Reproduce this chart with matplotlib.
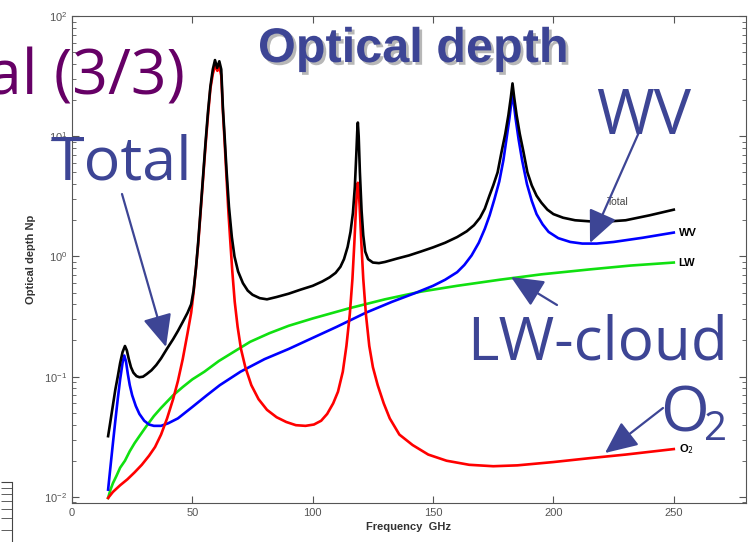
import matplotlib
matplotlib.use("Agg")
import matplotlib.pyplot as plt
import matplotlib.patheffects as pe

# frequency (GHz) / optical depth (Np)
f_total = [15, 16, 17, 18, 19, 20, 21, 22, 22.8, 23.6, 24.5, 25.5, 26.8, 28, 29.5, 31, 33,
           35, 37, 39.4, 42, 44, 46, 48, 49.5, 50.5, 51.5, 52.4, 53.4, 54.4, 55.5, 56.5,
           57.5, 58.5, 59.4, 60.3, 61.2, 62, 62.7, 63.4, 64.2, 65.2, 66.4, 67.5, 69, 71,
           73, 75, 78, 81, 85, 90, 95, 100, 104, 107, 109.5, 111.5, 113, 114.5, 115.7,
           116.7, 117.5, 118.1, 118.5, 118.75, 119.1, 119.6, 120.3, 121, 121.8, 123, 125,
           127.5, 130, 135, 140, 145, 150, 155, 160, 164, 167, 169.5, 171.5, 173.4, 175,
           176.8, 178.5, 180, 181.3, 182.3, 183, 183.7, 184.7, 186, 187.5, 189.2, 191, 193,
           195, 197.5, 200, 204, 209, 215, 222, 230, 240, 250]
v_total = [0.032, 0.043, 0.058, 0.078, 0.1, 0.13, 0.16, 0.18, 0.165, 0.14, 0.12, 0.108,
           0.101, 0.099, 0.1, 0.105, 0.113, 0.125, 0.142, 0.17, 0.205, 0.24, 0.285, 0.34,
           0.4, 0.52, 0.8, 1.3, 2.4, 4.5, 9, 16, 26, 36, 43, 37, 42, 36, 17, 10, 5.2, 2.6,
           1.45, 1.0, 0.75, 0.6, 0.52, 0.48, 0.45, 0.44, 0.46, 0.49, 0.53, 0.57, 0.62, 0.67,
           0.73, 0.82, 0.95, 1.2, 1.6, 2.3, 3.8, 7, 11, 13, 10, 5, 2.4, 1.5, 1.1, 0.95, 0.89,
           0.88, 0.9, 0.96, 1.02, 1.1, 1.19, 1.3, 1.45, 1.62, 1.82, 2.1, 2.5, 3.2, 3.9, 5.0,
           7.5, 10.5, 15, 21, 27.5, 21, 15, 10.5, 7.5, 5.0, 3.9, 3.2, 2.8, 2.45, 2.25, 2.1,
           2.0, 1.96, 1.95, 2.0, 2.2, 2.45]

f_wv = [15, 16, 17, 18, 19, 20, 21, 21.7, 22.4, 23.2, 24, 25, 26.5, 28, 30, 32, 34, 37, 40,
        44, 50, 56, 61.4, 70, 80, 90, 98.8, 110, 122, 133, 143, 150, 155, 160, 163, 166,
        169, 171.5, 173.5, 175.5, 177.5, 179.2, 180.5, 181.7, 182.5, 183, 183.5, 184.3,
        185.5, 187, 189, 191, 193, 195.5, 198, 202, 207, 212, 218, 225, 237, 250]
v_wv = [0.0115, 0.018, 0.028, 0.043, 0.065, 0.095, 0.13, 0.15, 0.135, 0.105, 0.085, 0.07,
        0.057, 0.049, 0.043, 0.04, 0.039, 0.039, 0.041, 0.045, 0.056, 0.07, 0.085, 0.11,
        0.14, 0.17, 0.205, 0.26, 0.34, 0.42, 0.5, 0.57, 0.64, 0.74, 0.85, 1.02, 1.3, 1.7,
        2.2, 3.0, 4.2, 6.3, 9.5, 14, 19, 24, 19, 14, 9.5, 6.3, 4.0, 2.9, 2.25, 1.85, 1.6,
        1.42, 1.32, 1.28, 1.28, 1.32, 1.43, 1.58]

f_lw = [15, 16, 17, 18.5, 20, 22, 24, 26, 28, 31, 34, 37, 42, 46, 50, 55, 61, 67, 74, 82,
        90, 100, 115, 130, 145, 160, 177.6, 195, 215, 232, 250]
v_lw = [0.0098, 0.0115, 0.013, 0.015, 0.0175, 0.02, 0.024, 0.028, 0.032, 0.039, 0.047,
        0.055, 0.07, 0.082, 0.095, 0.11, 0.135, 0.16, 0.195, 0.23, 0.265, 0.305, 0.37, 0.44,
        0.51, 0.57, 0.64, 0.71, 0.78, 0.84, 0.89]

f_o2 = [15, 17, 20, 23, 26, 29, 32, 34.5, 37, 39.5, 42, 44, 46, 48, 49.5, 50.5, 51.5, 52.4,
        53.4, 54.4, 55.5, 56.5, 57.5, 58.5, 59.5, 60.4, 61.2, 62, 62.7, 63.4, 64.2, 65,
        65.8, 66.6, 67.6, 68.8, 70.2, 72, 74.5, 77.5, 81, 85, 89, 93, 97, 100.5, 103.5,
        106, 108.5, 110.5, 112.5, 114, 115.4, 116.5, 117.3, 118, 118.4, 118.75, 119.1,
        119.5, 120.2, 121, 122.1, 123.5, 125, 127, 129.5, 132, 136, 141.5, 148, 155.6, 165,
        175, 185, 200, 215, 230, 250]
v_o2 = [0.0098, 0.011, 0.0125, 0.014, 0.016, 0.0185, 0.022, 0.026, 0.033, 0.045, 0.065,
        0.092, 0.14, 0.23, 0.34, 0.5, 0.8, 1.25, 2.3, 4.3, 8.5, 15, 25, 33, 39, 35, 38, 32,
        16, 9, 4.5, 2.3, 1.3, 0.75, 0.42, 0.26, 0.17, 0.12, 0.085, 0.065, 0.053, 0.046,
        0.042, 0.0395, 0.039, 0.04, 0.043, 0.049, 0.06, 0.075, 0.11, 0.18, 0.33, 0.65, 1.3,
        2.6, 3.6, 4.1, 3.6, 2.6, 1.3, 0.65, 0.33, 0.18, 0.12, 0.085, 0.06, 0.045, 0.033,
        0.027, 0.0225, 0.02, 0.0185, 0.018, 0.0183, 0.0195, 0.021, 0.0225, 0.025]

x_ticks = [0, 50, 100, 150, 200, 250]
slide_blue = "#3d4595"
W, H = 754, 542


def px(x, y):
    # pixel position from the top-left corner -> figure pixels
    return (x, H - y)


fig = plt.figure(figsize=(W / 100, H / 100), dpi=100)
ax = fig.add_axes([72 / W, 1 - 503 / H, (746 - 72) / W, (503 - 16) / H])

ax.plot(f_lw, v_lw, color="#10e010", lw=1.9)
ax.plot(f_wv, v_wv, color="#0000ff", lw=1.9)
ax.plot(f_o2, v_o2, color="#ff0000", lw=1.9)
ax.plot(f_total, v_total, color="black", lw=1.9)

ax.set_yscale("log")
ax.set_xlim(0, 280)
ax.set_ylim(0.0089, 100)
ax.set_xticks(x_ticks)
for s in ax.spines.values():
    s.set_color("#555555")
ax.tick_params(which="both", direction="in", top=True, right=True, colors="#555555",
               labelsize=8, labelcolor="#555555")
ax.tick_params(which="major", length=5)
ax.tick_params(which="minor", length=3)
for lab in ax.get_xticklabels() + ax.get_yticklabels():
    lab.set_family("Liberation Sans")
ax.set_xlabel("Frequency  GHz", fontsize=8, fontweight="bold", color="#333333",
              family="Liberation Sans", labelpad=3)
ax.set_ylabel("Optical depth Np", fontsize=8, fontweight="bold", color="#333333",
              family="Liberation Sans", labelpad=6)

# curve names at the right-hand ends
ax.text(222, 2.85, "Total", fontsize=7.5, color="#444444", va="center", family="Liberation Sans")
ax.text(252, 1.58, "WV", fontsize=8, fontweight="bold", va="center", family="Liberation Sans")
ax.text(252, 0.875, "LW", fontsize=8, fontweight="bold", va="center", family="Liberation Sans")
ax.text(252, 0.025, r"O$_2$", fontsize=8, fontweight="bold", va="center", family="Liberation Sans")

# fragment of a neighbouring axis at the bottom left
ax2 = fig.add_axes([0, 0, 12 / W, 60 / H])
ax2.set_yscale("log")
ax2.set_ylim(0.32, 1.0)
ax2.set_xticks([])
for side in ("left", "top", "bottom"):
    ax2.spines[side].set_visible(False)
ax2.spines["right"].set_color("#444444")
ax2.yaxis.tick_right()
ax2.tick_params(which="both", direction="in", length=8, labelright=False, colors="#444444")
ax2.patch.set_alpha(0)

# slide overlay text
fig.text(185 / W, 1 - 95 / H, "al (3/3)", fontsize=45, color="#660066", family="Open Sans",
         ha="right", va="baseline")
fig.text(258 / W, 1 - 62 / H, "Optical depth", fontsize=35, fontweight="bold", color=slide_blue,
         family="Liberation Sans", ha="left", va="baseline",
         path_effects=[pe.withSimplePatchShadow(offset=(2, -2), shadow_rgbFace="#888888", alpha=0.6)])
fig.text(50 / W, 1 - 180 / H, "Total", fontsize=44, color=slide_blue, family="Open Sans",
         ha="left", va="baseline")
fig.text(596 / W, 1 - 134 / H, "WV", fontsize=45, color=slide_blue, family="Open Sans",
         ha="left", va="baseline")
fig.text(467 / W, 1 - 360 / H, "LW-cloud", fontsize=43.5, color=slide_blue, family="Open Sans",
         ha="left", va="baseline")
fig.text(660 / W, 1 - 431 / H, "O", fontsize=45, color=slide_blue, family="Open Sans",
         ha="left", va="baseline")
fig.text(704 / W, 1 - 440 / H, "2", fontsize=29, color=slide_blue, family="Open Sans",
         ha="left", va="baseline")

arrows = [((122, 194), (166, 347)),
          ((640, 130), (590, 243)),
          ((557, 305), (511, 277)),
          ((663, 408), (605, 453))]
for start, end in arrows:
    ax.annotate("", xy=px(*end), xytext=px(*start), xycoords="figure pixels",
                textcoords="figure pixels", annotation_clip=False,
                arrowprops=dict(arrowstyle="-|>,head_length=1.0,head_width=0.45",
                                color=slide_blue, lw=1.6, mutation_scale=20,
                                shrinkA=0, shrinkB=0))

fig.savefig("out.png", dpi=100)
